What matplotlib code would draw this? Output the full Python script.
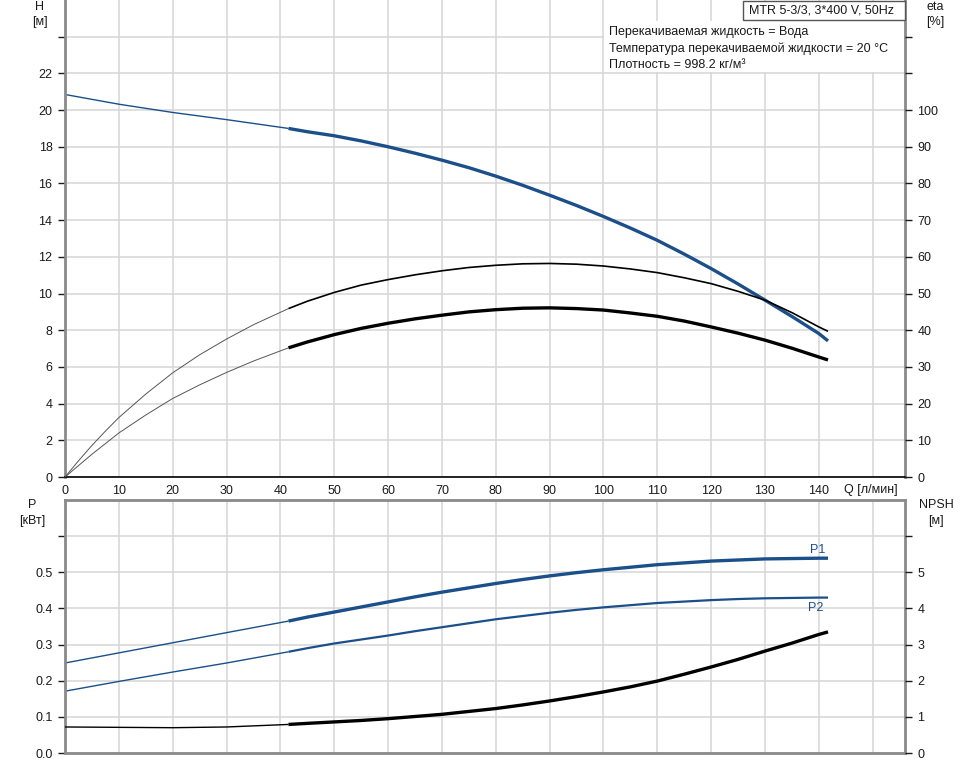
import matplotlib
matplotlib.use('Agg')
import matplotlib.pyplot as plt
from matplotlib.patches import Rectangle

plt.rcParams['font.family'] = ['Liberation Sans', 'DejaVu Sans']
plt.rcParams['font.size'] = 9

# duty point split: thin line before, thick line after
q_split = 41.5

q = [0, 10, 20, 30, 41.5, 45, 50, 55, 60, 65, 70, 75, 80, 85, 90, 95, 100,
     105, 110, 115, 120, 125, 130, 135, 140, 141.7]
head = [20.85, 20.32, 19.87, 19.48, 19.0, 18.82, 18.6, 18.32, 18.0, 17.65, 17.27,
        16.86, 16.4, 15.9, 15.36, 14.8, 14.2, 13.57, 12.9, 12.15, 11.36, 10.52,
        9.64, 8.75, 7.82, 7.42]

q_eta = [0, 2.5, 5, 7.5, 10, 15, 20, 25, 30, 35, 41.5, 45, 50, 55, 60, 65, 70,
         75, 80, 85, 90, 95, 100, 105, 110, 115, 120, 125, 130, 135, 140, 141.7]
eta_1 = [0, 4.4, 8.6, 12.5, 16.2, 22.6, 28.4, 33.3, 37.6, 41.5, 45.9, 47.9, 50.3,
         52.3, 53.8, 55.1, 56.2, 57.1, 57.7, 58.1, 58.2, 58.0, 57.5, 56.7, 55.7,
         54.3, 52.7, 50.6, 48.2, 44.8, 40.9, 39.7]
eta_2 = [0, 3.1, 6.2, 9.1, 12.0, 16.9, 21.4, 25.1, 28.5, 31.6, 35.2, 36.8, 38.8,
         40.5, 41.9, 43.1, 44.1, 45.0, 45.6, 46.0, 46.1, 45.9, 45.5, 44.7, 43.8,
         42.5, 40.9, 39.2, 37.3, 35.1, 32.7, 31.9]

p1 = [0.249, 0.277, 0.305, 0.333, 0.365, 0.376, 0.390, 0.404, 0.418, 0.432, 0.445,
      0.457, 0.469, 0.480, 0.490, 0.499, 0.507, 0.514, 0.521, 0.526, 0.531, 0.534,
      0.537, 0.538, 0.539, 0.539]
p2 = [0.171, 0.198, 0.224, 0.249, 0.280, 0.290, 0.303, 0.314, 0.325, 0.337, 0.348,
      0.359, 0.370, 0.379, 0.388, 0.396, 0.403, 0.409, 0.415, 0.419, 0.423, 0.426,
      0.428, 0.429, 0.430, 0.430]
npsh = [0.72, 0.71, 0.70, 0.72, 0.79, 0.82, 0.86, 0.90, 0.95, 1.01, 1.07, 1.15,
        1.23, 1.33, 1.44, 1.56, 1.69, 1.83, 1.99, 2.18, 2.38, 2.59, 2.82, 3.04,
        3.28, 3.35]

q_ticks = list(range(0, 150, 10))
info_lines = ['Перекачиваемая жидкость = Вода',
              'Температура перекачиваемой жидкости = 20 °C',
              'Плотность = 998.2 кг/м³']
title_box = 'MTR 5-3/3, 3*400 V, 50Hz'

BLUE = '#1b4f8a'
GRID = '#d6d6d6'
SPINE = '#8a8a8a'
TXT = '#1a1a1a'


def split_plot(ax, x, y, color, lw_thin, lw_thick, thin_color=None):
    i = x.index(q_split)
    ax.plot(x[:i + 1], y[:i + 1], color=thin_color or color, lw=lw_thin,
            solid_capstyle='butt', solid_joinstyle='round')
    ax.plot(x[i:], y[i:], color=color, lw=lw_thick,
            solid_capstyle='butt', solid_joinstyle='round')


def style(ax):
    ax.set_xlim(0, 156)
    ax.set_xticks(range(0, 160, 10))
    ax.grid(True, color=GRID, lw=1.1)
    ax.set_axisbelow(True)
    for s in ('left', 'right'):
        ax.spines[s].set_color(SPINE)
        ax.spines[s].set_linewidth(2)
    ax.tick_params(axis='y', direction='out', length=5, width=1, color=TXT,
                   labelcolor=TXT, pad=4)


fig = plt.figure(figsize=(9.68, 7.64), dpi=100)

# ---- top: head and efficiency
ax = fig.add_axes([65 / 968, 1 - 477 / 764, 840 / 968, 477 / 764])
style(ax)
ax.set_ylim(0, 26)
ax.set_yticks(range(0, 26, 2))
ax.set_yticklabels([str(v) for v in range(0, 24, 2)] + [''])
ax.tick_params(axis='x', length=0, labelcolor=TXT, pad=6)
ax.set_xticklabels([str(v) for v in q_ticks] + [''])
ax.spines['top'].set_visible(False)
ax.spines['bottom'].set_color('black')
ax.spines['bottom'].set_linewidth(1.2)
split_plot(ax, q, head, BLUE, 1.0, 2.4)

ax2 = ax.twinx()
ax2.set_ylim(0, 130)
ax2.set_yticks(range(0, 130, 10))
ax2.set_yticklabels([str(v) for v in range(0, 110, 10)] + ['', ''])
ax2.tick_params(axis='y', direction='out', length=5, width=1, color=TXT,
                labelcolor=TXT, pad=4)
for s in ax2.spines.values():
    s.set_visible(False)
split_plot(ax2, q_eta, eta_1, 'black', 0.7, 1.2, thin_color='#555555')
split_plot(ax2, q_eta, eta_2, 'black', 0.7, 2.4, thin_color='#555555')

ax.text(149.6, -0.72, 'Q [л/мин]', ha='center', va='center', color=TXT)

# ---- bottom: power and NPSH
bx = fig.add_axes([65 / 968, 11 / 764, 840 / 968, 253 / 764])
style(bx)
bx.set_ylim(0, 0.7)
bx.set_yticks([0, 0.1, 0.2, 0.3, 0.4, 0.5, 0.6])
bx.set_yticklabels(['0.0', '0.1', '0.2', '0.3', '0.4', '0.5', ''])
bx.tick_params(axis='x', length=0, labelbottom=False)
for s in ('top', 'bottom'):
    bx.spines[s].set_color(SPINE)
    bx.spines[s].set_linewidth(2)
split_plot(bx, q, p1, BLUE, 1.0, 2.4)
split_plot(bx, q, p2, BLUE, 1.0, 1.6)
bx.text(139.8, 0.563, 'P1', color=BLUE, ha='center', va='center')
bx.text(139.4, 0.400, 'P2', color=BLUE, ha='center', va='center')

bx2 = bx.twinx()
bx2.set_ylim(0, 7)
bx2.set_yticks(range(0, 7))
bx2.set_yticklabels([str(v) for v in range(0, 6)] + [''])
bx2.tick_params(axis='y', direction='out', length=5, width=1, color=TXT,
                labelcolor=TXT, pad=4)
for s in bx2.spines.values():
    s.set_visible(False)
split_plot(bx2, q, npsh, 'black', 1.0, 2.4)

# ---- axis captions
W, Hh = 968, 764
def ftext(x, y, s, **kw):
    fig.text(x / W, 1 - y / Hh, s, color=TXT, ha='center', va='center', **kw)

ftext(40, 6.5, 'H')
ftext(40, 22, '[м]')
ftext(935, 6.5, 'eta')
ftext(935, 22, '[%]')
ftext(32, 505, 'P')
ftext(32, 521, '[кВт]')
ftext(936, 505, 'NPSH')
ftext(936, 521, '[м]')

# ---- info block
fig.add_artist(Rectangle((604 / W, 1 - 72 / Hh), 300 / W, 51 / Hh,
                         transform=fig.transFigure, facecolor='white',
                         edgecolor='none', zorder=5))
for k, line in enumerate(info_lines):
    fig.text(609 / W, 1 - (32.5 + 16.5 * k) / Hh, line, color=TXT,
             ha='left', va='center', zorder=6)
fig.add_artist(Rectangle((743 / W, 1 - 20 / Hh), 162 / W, 19.5 / Hh,
                         transform=fig.transFigure, facecolor='white',
                         edgecolor='#555555', lw=1, zorder=5))
fig.text(749 / W, 1 - 10.5 / Hh, title_box, color=TXT, ha='left', va='center', zorder=6)

fig.savefig('out.png', dpi=100)
